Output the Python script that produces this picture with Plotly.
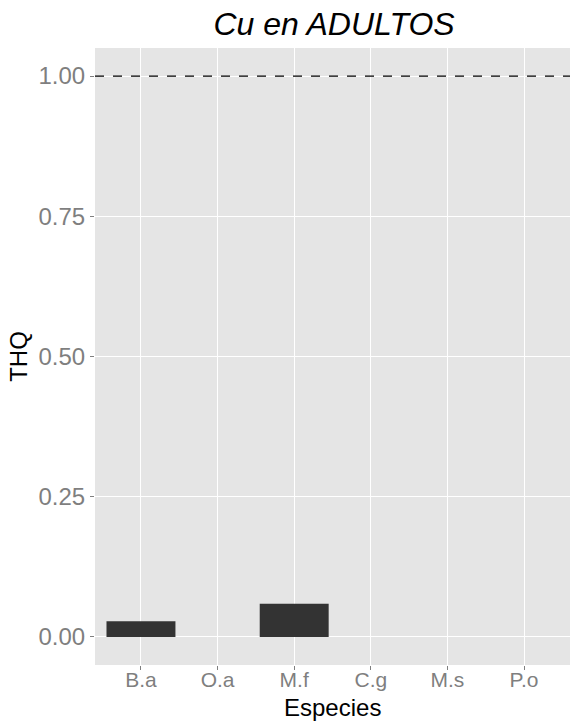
import plotly.graph_objects as go

# THQ por especie (cobre, adultos)
especies = ["B.a", "O.a", "M.f", "C.g", "M.s", "P.o"]
thq = [0.028, 0.0, 0.059, 0.0, 0.0, 0.0]
umbral = 1.0
y_ticks = [0.0, 0.25, 0.5, 0.75, 1.0]
y_labels = ["0.00", "0.25", "0.50", "0.75", "1.00"]

fig = go.Figure()
fig.add_trace(go.Bar(
    x=especies, y=thq, width=0.9,
    marker=dict(color="#333333", line=dict(width=0)),
    showlegend=False,
))

# línea de referencia THQ = 1
fig.add_shape(type="line", xref="paper", x0=0, x1=1, yref="y", y0=umbral, y1=umbral,
              line=dict(color="black", width=1.2, dash="dash"))

# título del eje x colocado bajo las etiquetas
fig.add_annotation(text="Especies", xref="paper", yref="paper", x=0.5, y=-0.069,
                   xanchor="center", yanchor="middle", showarrow=False,
                   font=dict(size=24, color="black"))

fig.update_layout(
    width=570, height=725,
    margin=dict(l=95, r=0, t=48, b=60),
    paper_bgcolor="white",
    plot_bgcolor="#e5e5e5",
    font=dict(family="Liberation Sans, Arial, sans-serif"),
    title=dict(text="<i>Cu en ADULTOS</i>", x=0.586, xanchor="center", y=0.967, yanchor="middle",
               font=dict(size=32, color="black")),
    xaxis=dict(
        categoryorder="array", categoryarray=especies,
        range=[-0.6, 5.6],
        tickfont=dict(size=21, color="#7f7f7f"),
        ticklabelstandoff=-8,
        showgrid=True, gridcolor="white", gridwidth=1.2,
        ticks="outside", ticklen=4, tickcolor="#7f7f7f",
        zeroline=False, showline=False,
    ),
    yaxis=dict(
        title=dict(text="THQ", font=dict(size=24, color="black"), standoff=4),
        range=[-0.05, 1.05],
        tickvals=y_ticks, ticktext=y_labels,
        tickfont=dict(size=24, color="#7f7f7f"),
        showgrid=True, gridcolor="white", gridwidth=1.2,
        ticks="outside", ticklen=4, tickcolor="#7f7f7f",
        zeroline=False, showline=False,
    ),
)

fig.write_html("out.html")
